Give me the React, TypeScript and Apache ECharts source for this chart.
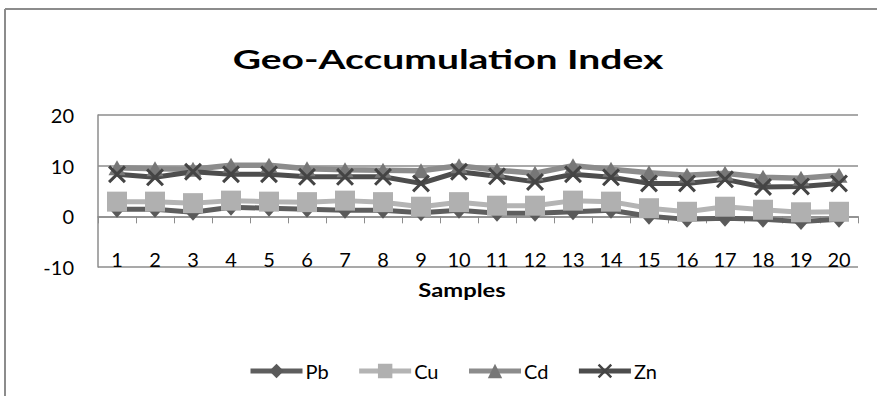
import React, { useEffect, useRef } from "react";
import * as echarts from "echarts";

const samples = ["1","2","3","4","5","6","7","8","9","10","11","12","13","14","15","16","17","18","19","20"];
const pb = [1.4, 1.4, 0.8, 1.8, 1.6, 1.4, 1.2, 1.2, 0.7, 1.2, 0.6, 0.6, 0.9, 1.2, 0.0, -0.6, -0.4, -0.6, -1.0, -0.6];
const cu = [2.9, 2.9, 2.6, 3.1, 2.9, 2.8, 3.1, 2.8, 1.9, 2.8, 2.1, 2.1, 3.1, 2.9, 1.6, 0.9, 1.9, 1.3, 0.8, 0.9];
const cd = [9.6, 9.4, 9.3, 10.1, 10.1, 9.4, 9.2, 9.1, 9.0, 10.0, 9.1, 8.5, 10.0, 9.3, 8.6, 8.1, 8.5, 7.7, 7.5, 8.1];
const zn = [8.3, 7.7, 8.8, 8.3, 8.3, 7.8, 7.8, 7.8, 6.5, 8.8, 7.9, 6.8, 8.3, 7.7, 6.5, 6.5, 7.3, 5.8, 5.9, 6.5];
const yTicks = { min: -10, max: 20, interval: 10 };
const titleText = "Geo-Accumulation Index";
const xName = "Samples";

const FONT = "Lato, 'Open Sans', sans-serif";
const X_PATH = "path://M0,1.2 L1.2,0 L5,3.8 L8.8,0 L10,1.2 L6.2,5 L10,8.8 L8.8,10 L5,6.2 L1.2,10 L0,8.8 L3.8,5 Z";

export default function App() {
  const ref = useRef<HTMLDivElement>(null);
  useEffect(() => {
    if (!ref.current) return;
    const chart = echarts.init(ref.current, null, { renderer: "svg" });
    chart.setOption({
      animation: false,
      backgroundColor: "#ffffff",
      textStyle: { fontFamily: FONT },
      graphic: [
        { type: "line", shape: { x1: 5, y1: 9, x2: 877, y2: 9 }, style: { stroke: "#8c8c8c", lineWidth: 2 } },
        { type: "line", shape: { x1: 5, y1: 9, x2: 5, y2: 396 }, style: { stroke: "#8c8c8c", lineWidth: 2 } },
        {
          type: "text",
          x: 448,
          y: 59,
          scaleX: 1.5,
          style: {
            text: titleText, fontFamily: FONT, fontWeight: "bold", fontSize: 26, fill: "#000",
            align: "center", verticalAlign: "middle",
          },
        },
        {
          type: "text",
          x: 462,
          y: 290,
          scaleX: 1.25,
          style: {
            text: xName, fontFamily: FONT, fontWeight: "bold", fontSize: 19, fill: "#000",
            align: "center", verticalAlign: "middle",
          },
        },
      ],
      legend: {
        left: 243,
        top: 356,
        itemWidth: 52,
        itemHeight: 18,
        itemGap: 28,
        lineStyle: { width: 5 },
        textStyle: { fontFamily: FONT, fontSize: 20, color: "#000", padding: [0, 0, 0, -2] },
        data: ["Pb", "Cu", "Cd", "Zn"],
      },
      grid: { left: 98, right: 19, top: 115, bottom: 129 },
      xAxis: [
        {
          type: "category",
          data: samples,
          boundaryGap: true,
          axisLine: { onZero: true, lineStyle: { color: "#8c8c8c", width: 1.5 } },
          axisTick: { show: true, length: 7, lineStyle: { color: "#8c8c8c" } },
          axisLabel: { show: false },
        },
        {
          type: "category",
          data: samples,
          position: "bottom",
          boundaryGap: true,
          axisLine: { show: false, onZero: false },
          axisTick: { show: false },
          axisLabel: { inside: true, margin: -2, fontFamily: FONT, fontSize: 20, color: "#000", interval: 0 },
        },
      ],
      yAxis: {
        type: "value",
        min: yTicks.min,
        max: yTicks.max,
        interval: yTicks.interval,
        axisLine: { show: true, lineStyle: { color: "#8c8c8c", width: 1.5 } },
        axisTick: { show: false },
        splitLine: { lineStyle: { color: "#8c8c8c", width: 1.5 } },
        axisLabel: { margin: 24, fontFamily: FONT, fontSize: 20, color: "#000" },
      },
      series: [
        {
          name: "Pb", type: "line", data: pb, xAxisIndex: 0,
          symbol: "diamond", symbolSize: [15, 17],
          lineStyle: { color: "#5e5e5e", width: 5 },
          itemStyle: { color: "#5a5a5a" },
        },
        {
          name: "Cu", type: "line", data: cu, xAxisIndex: 0,
          symbol: "rect", symbolSize: 20,
          lineStyle: { color: "#b4b4b4", width: 5 },
          itemStyle: { color: "#b0b0b0" },
        },
        {
          name: "Cd", type: "line", data: cd, xAxisIndex: 0,
          symbol: "triangle", symbolSize: [17, 15],
          lineStyle: { color: "#8c8c8c", width: 5.5 },
          itemStyle: { color: "#777777" },
        },
        {
          name: "Zn", type: "line", data: zn, xAxisIndex: 0,
          symbol: X_PATH, symbolSize: 18,
          lineStyle: { color: "#4d4d4d", width: 5 },
          itemStyle: { color: "#444444" },
        },
      ],
    });
    return () => chart.dispose();
  }, []);
  return <div ref={ref} style={{ width: 877, height: 396, position: "absolute", left: 0, top: 0 }} />;
}
